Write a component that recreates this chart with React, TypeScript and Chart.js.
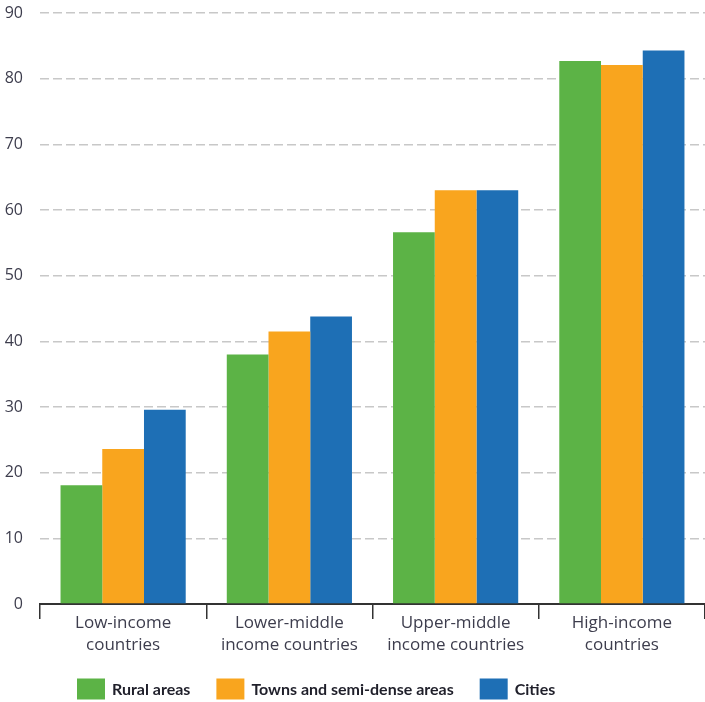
import React, { useEffect, useRef } from 'react';
import { Chart, registerables } from 'chart.js';

Chart.register(...registerables);

const categories: string[][] = [
  ['Low-income', 'countries'],
  ['Lower-middle', 'income countries'],
  ['Upper-middle', 'income countries'],
  ['High-income', 'countries'],
];
const seriesNames = ['Rural areas', 'Towns and semi-dense areas', 'Cities'];
const ruralAreas = [18.1, 38.0, 56.6, 82.7];
const townsAreas = [23.6, 41.5, 63.0, 82.1];
const citiesAreas = [29.6, 43.8, 63.0, 84.3];
const seriesColors = ['#5cb346', '#f9a51e', '#1e6fb5'];
const yMin = 0;
const yMax = 90;
const yStep = 10;

const legendPlugin = {
  id: 'customLegend',
  afterDraw(chart: any) {
    const ctx = chart.ctx;
    ctx.save();
    ctx.font = 'bold 16px Lato';
    ctx.textBaseline = 'middle';
    ctx.textAlign = 'left';
    let x = 77;
    const yc = 689;
    const bw = 28;
    const bh = 21;
    chart.data.datasets.forEach((ds: any) => {
      ctx.fillStyle = ds.backgroundColor;
      ctx.fillRect(x, yc - bh / 2, bw, bh);
      ctx.fillStyle = '#1f1f2a';
      ctx.fillText(ds.label, x + bw + 7, yc + 1);
      x += bw + 7 + ctx.measureText(ds.label).width + 26;
    });
    ctx.restore();
  },
};

export default function App() {
  const ref = useRef<HTMLCanvasElement>(null);
  useEffect(() => {
    document.body.style.margin = '0';
    document.body.style.overflow = 'hidden';
    const canvas = ref.current!;
    const chart = new Chart(canvas, {
      type: 'bar',
      data: {
        labels: categories,
        datasets: [ruralAreas, townsAreas, citiesAreas].map((d, i) => ({
          label: seriesNames[i],
          data: d,
          backgroundColor: seriesColors[i],
          borderWidth: 0,
          barPercentage: 1,
          categoryPercentage: 0.753,
        })),
      },
      options: {
        animation: false,
        responsive: false,
        layout: { padding: { left: 3, right: 0, top: 0, bottom: 46 } },
        plugins: {
          legend: { display: false },
          tooltip: { enabled: false },
        },
        scales: {
          x: {
            offset: true,
            afterFit: (scale: any) => {
              scale.height = 52;
              scale.paddingLeft = 0;
              scale.paddingRight = 0;
            },
            grid: {
              offset: true,
              display: true,
              drawOnChartArea: false,
              drawTicks: true,
              tickLength: 15,
              color: '#333333',
              lineWidth: 1.5,
            },
            border: { display: true, color: '#333333', width: 2 },
            ticks: {
              color: '#3d3d4d',
              font: { family: 'Open Sans', size: 17, lineHeight: 1.3 },
              padding: -7,
              maxRotation: 0,
              autoSkip: false,
            },
          },
          y: {
            min: yMin,
            max: yMax,
            afterFit: (scale: any) => {
              scale.width = 37;
              scale.paddingTop = 13;
              scale.paddingBottom = 0;
            },
            ticks: {
              stepSize: yStep,
              color: '#3d3d4d',
              font: { family: 'Open Sans', size: 16 },
              padding: 17,
            },
            grid: {
              drawTicks: false,
              color: (c: any) => (c.tick && c.tick.value === 0 ? 'rgba(0,0,0,0)' : '#c8c8c8'),
              lineWidth: 1.5,
            },
            border: { display: false, dash: [9, 4] },
          },
        },
      },
      plugins: [legendPlugin],
    });
    return () => chart.destroy();
  }, []);
  return (
    <div style={{ width: 705, height: 702 }}>
      <canvas ref={ref} width={705} height={702} style={{ display: 'block' }} />
    </div>
  );
}
